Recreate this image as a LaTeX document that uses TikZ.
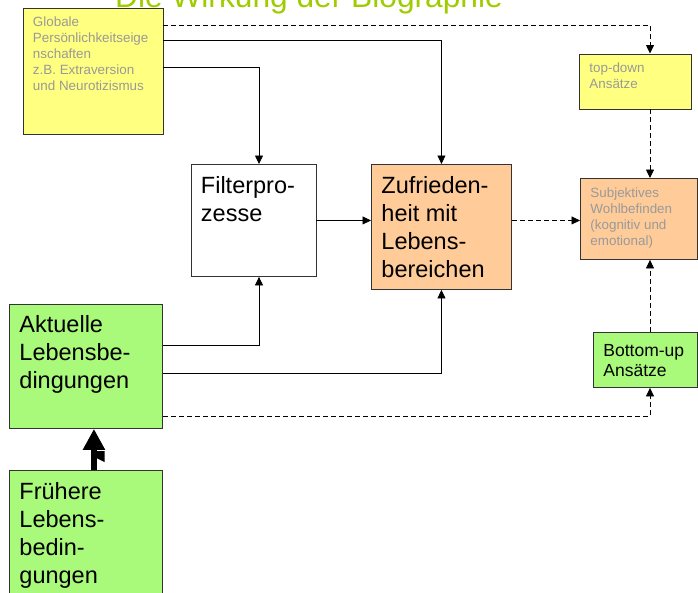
\documentclass[tikz,border=0pt]{standalone}
\usepackage{fontspec}
\setmainfont{Liberation Sans}
\usetikzlibrary{arrows.meta}

\definecolor{boxyellow}{HTML}{FFFF80}
\definecolor{boxpeach}{HTML}{FFCC99}
\definecolor{boxgreen}{HTML}{A9F97A}
\definecolor{headgreen}{HTML}{9FCC00}
\definecolor{notegray}{HTML}{999999}

\newcommand{\boxfont}{\fontsize{23.5}{28}\selectfont}
\newcommand{\notefont}{\fontsize{13.4}{16}\selectfont}
\newcommand{\midfont}{\fontsize{17.5}{20.5}\selectfont}
\newcommand{\headfont}{\fontsize{31.7}{38}\selectfont}
% text sits in the upper left corner of each box
\newcommand{\boxtext}[4]{\parbox[c][#2][t]{#1}{\raggedright\vspace*{#3}\strut #4}}

\begin{document}
\begin{tikzpicture}[x=1pt,y=-1pt,
	plain_box/.style={draw=black!80,line width=0.9pt,anchor=north west,inner xsep=10pt,inner ysep=0pt,font=\boxfont},
	note_box/.style={plain_box,fill=boxyellow,font=\notefont,text=notegray},
	peach_box/.style={plain_box,fill=boxpeach},
	green_box/.style={plain_box,fill=boxgreen},
	conn/.style={line width=0.8pt,-{Triangle[length=8.5pt,width=8pt]}},
	dconn/.style={conn,dash pattern=on 5pt off 3pt}]
	\useasboundingbox (0,0) rectangle (698,592);

	\node[anchor=base west,font=\headfont,text=headgreen,inner sep=0pt] (head) at (115,7) {Die Wirkung der Biographie};

	\node[note_box] (global) at (22.5,7.5) {\boxtext{120pt}{126.5pt}{7.8pt}{Globale\\Persönlichkeitseige\\nschaften\\z.B. Extraversion\\und Neurotizismus}};
	\node[note_box] (topdown) at (579,53.5) {\boxtext{92pt}{55pt}{7.8pt}{top-down\\Ansätze}};
	\node[plain_box,fill=white] (filter) at (190.5,164) {\boxtext{105pt}{112pt}{9.4pt}{Filterpro-\\zesse}};
	\node[peach_box] (zufr) at (371,164) {\boxtext{120pt}{125pt}{9.4pt}{Zufrieden-\\heit mit\\Lebens-\\bereichen}};
	\node[peach_box,font=\notefont,text=notegray] (subj) at (580,178) {\boxtext{97pt}{81pt}{7.8pt}{Subjektives\\Wohlbefinden\\(kognitiv und\\emotional)}};
	\node[green_box] (aktuell) at (9,304) {\boxtext{133pt}{124pt}{8.4pt}{Aktuelle\\Lebensbe-\\dingungen}};
	\node[green_box,font=\midfont] (bottomup) at (593,332) {\boxtext{84pt}{55pt}{9.6pt}{Bottom-up\\Ansätze}};
	\node[green_box] (frueher) at (9,470) {\boxtext{133pt}{130pt}{9.4pt}{Frühere\\Lebens-\\bedin-\\gungen}};

	\coordinate (rail) at (650,0);
	\coordinate (fx) at (259,0);

	\draw[dconn] ([yshift=-17.5pt]global.north east) -| (rail |- topdown.north);
	\draw[conn] ([yshift=-32.5pt]global.north east) -| (zufr.north);
	\draw[conn] ([yshift=-59.5pt]global.north east) -| (fx |- filter.north);
	\draw[conn] (filter.east) -- (filter.east -| zufr.west);
	\draw[dconn] (zufr.east |- filter.east) -- (subj.west |- filter.east);
	\draw[dconn] (rail |- topdown.south) -- (rail |- subj.north);
	\draw[dconn] (rail |- bottomup.north) -- (rail |- subj.south);
	\draw[conn] ([yshift=-41pt]aktuell.north east) -| (fx |- filter.south);
	\draw[conn] ([yshift=-69pt]aktuell.north east) -| (zufr.south);
	\draw[dconn] ([yshift=-112pt]aktuell.north east) -| (rail |- bottomup.south);
	\draw[line width=5.5pt,-{Triangle[length=21pt,width=21pt]}] ([xshift=8pt]frueher.north) -- ([xshift=8pt]aktuell.south);
	\fill (96.5,451) -- (104.5,451) -- (104.5,462) -- (96.5,458) -- cycle;
\end{tikzpicture}
\end{document}
